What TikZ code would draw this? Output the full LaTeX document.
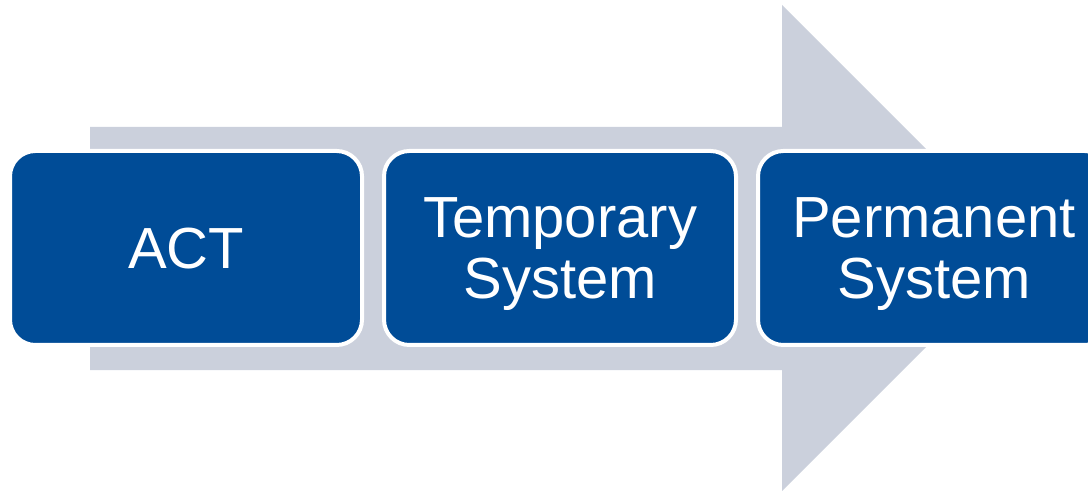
\documentclass[tikz,border=0pt]{standalone}
\usepackage{fontspec}
\setmainfont{Liberation Sans}
\usepackage{tikz}
\usetikzlibrary{positioning,calc}
\usepackage{xcolor}
\definecolor{stageblue}{RGB}{0,76,151}
\definecolor{arrowgray}{RGB}{203,208,220}

\begin{document}
\begin{tikzpicture}[x=0.75pt, y=-0.75pt,
    stagebox/.style={rectangle, draw=white, line width=3pt, fill=stageblue,
                rounded corners=19pt, minimum width=264pt, minimum height=145.5pt,
                align=center, text=white, text depth=0pt,
                font=\fontsize{43.5}{45.5}\selectfont}
]
    \useasboundingbox (0,0) rectangle (1088,491);
    \clip (0,0) rectangle (1088,491);

    % big arrow in the background
    \fill[arrowgray] (90,127) -- (782,127) -- (782,5) -- (1025,248)
        -- (782,491) -- (782,370) -- (90,370) -- cycle;

    \node[stagebox] (act) at (186,248) {ACT};
    \node[stagebox, right=13.5pt of act] (temp) {Temporary\\System};
    \node[stagebox, right=13.5pt of temp] (perm) {Permanent\\System};
\end{tikzpicture}
\end{document}
